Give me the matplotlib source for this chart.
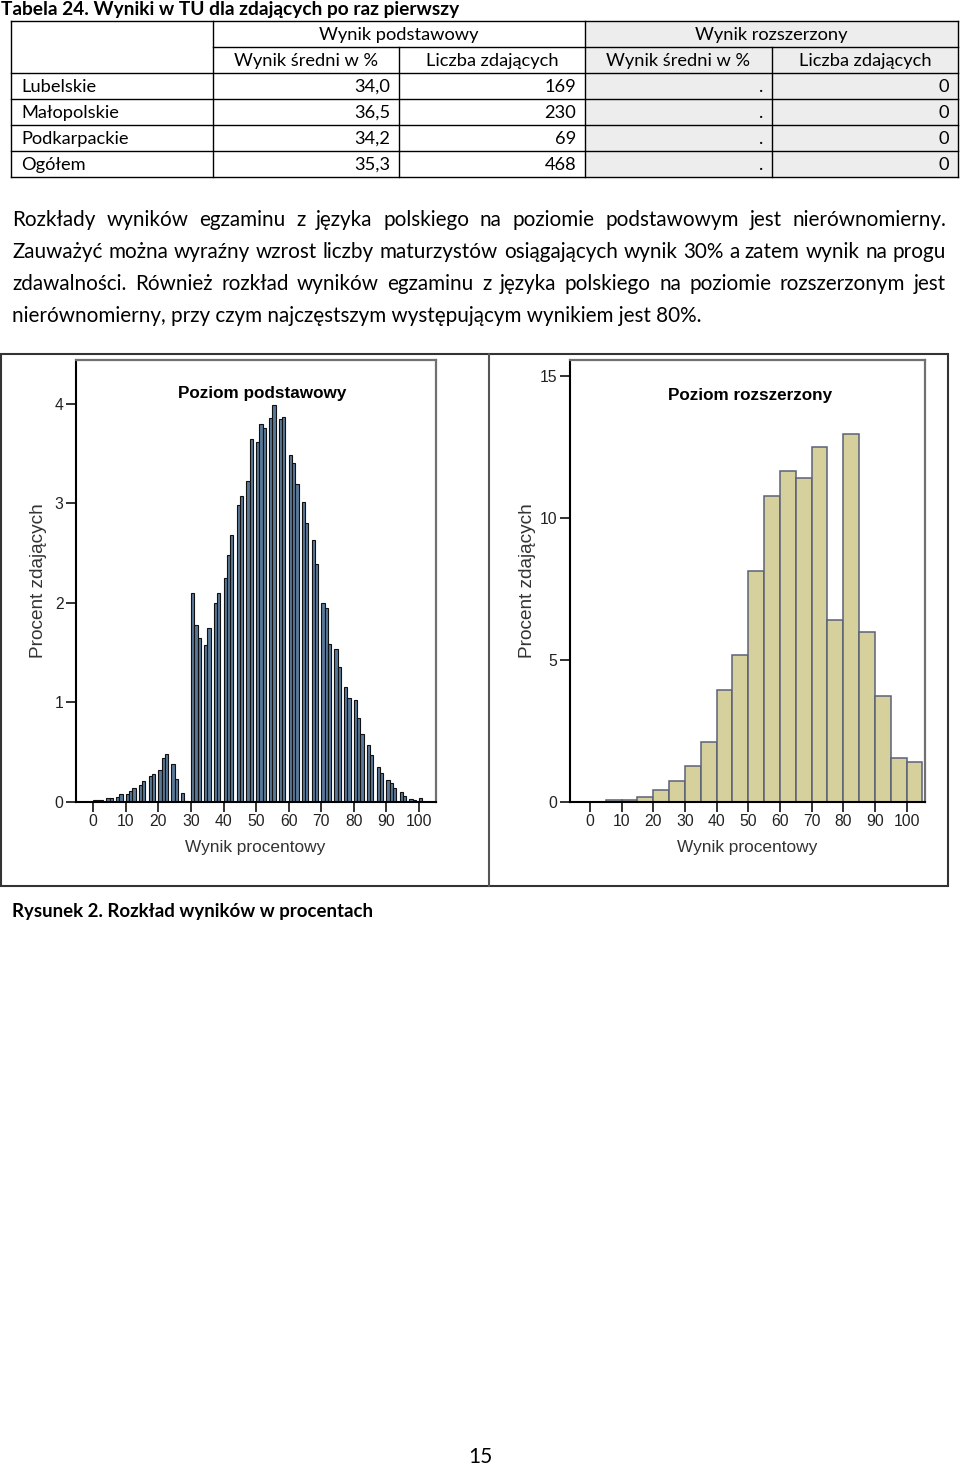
import matplotlib
matplotlib.use('Agg')
import matplotlib.pyplot as plt
from matplotlib.patches import Rectangle

# table data
regions = ['Lubelskie', 'Małopolskie', 'Podkarpackie', 'Ogółem']
basic_mean = [34.0, 36.5, 34.2, 35.3]
basic_count = [169, 230, 69, 468]
ext_mean = [None, None, None, None]
ext_count = [0, 0, 0, 0]

# histogram - poziom podstawowy (1% bins, left edges)
basic_bins = [0, 1, 2, 4, 5, 7, 8, 10, 11, 12, 14, 15, 17, 18, 20, 21, 22, 24, 25, 27, 28,
              30, 31, 32, 34, 35, 37, 38, 40, 41, 42, 44, 45, 47, 48, 50, 51, 52, 54, 55, 57, 58,
              60, 61, 62, 64, 65, 67, 68, 70, 71, 72, 74, 75, 77, 78, 80, 81, 82, 84, 85, 87, 88,
              90, 91, 92, 94, 95, 97, 98, 100]
basic_pct = [0.023, 0.017, 0.02, 0.037, 0.044, 0.05, 0.077, 0.084, 0.11, 0.137, 0.17,
             0.21, 0.26, 0.285, 0.32, 0.44, 0.48, 0.385, 0.23, 0.094, 0.01,
             2.10, 1.78, 1.65, 1.58, 1.75, 2.00, 2.10, 2.25, 2.48, 2.68, 2.98,
             3.07, 3.22, 3.65, 3.62, 3.80, 3.76, 3.86, 3.99, 3.85, 3.87,
             3.49, 3.41, 3.19, 3.01, 2.80, 2.63, 2.39, 2.00, 1.95, 1.59, 1.54,
             1.36, 1.16, 1.04, 1.02, 0.84, 0.68, 0.57, 0.47, 0.35, 0.29,
             0.22, 0.19, 0.14, 0.10, 0.06, 0.03, 0.02, 0.04]

# histogram - poziom rozszerzony (5% bins, left edges)
ext_bins = [0, 5, 10, 15, 20, 25, 30, 35, 40, 45, 50, 55, 60, 65, 70, 75, 80, 85, 90, 95, 100]
ext_pct = [0.01, 0.06, 0.06, 0.18, 0.41, 0.74, 1.27, 2.10, 3.95, 5.18, 8.11,
           10.75, 11.65, 11.40, 12.48, 6.41, 12.94, 5.99, 3.73, 1.54, 1.42]

para = [
    "Rozkłady wyników egzaminu z języka polskiego na poziomie podstawowym jest nierównomierny.",
    "Zauważyć można wyraźny wzrost liczby maturzystów osiągających wynik 30% a zatem wynik na progu",
    "zdawalności. Również rozkład wyników egzaminu z języka polskiego na poziomie rozszerzonym jest",
    "nierównomierny, przy czym najczęstszym występującym wynikiem jest 80%.",
]

W, H = 960, 1467
FONT = 'Lato'
CHART_FONT = 'Liberation Sans'

fig = plt.figure(figsize=(W / 100, H / 100), dpi=100)
page = fig.add_axes([0, 0, 1, 1])
page.set_xlim(0, W)
page.set_ylim(H, 0)
page.axis('off')
renderer = fig.canvas.get_renderer()


def text_w(s, size, weight='normal'):
    t = page.text(0, 0, s, fontsize=size, fontweight=weight, family=FONT)
    w = t.get_window_extent(renderer).width
    t.remove()
    return w


def fit(s, width, weight='normal'):
    return 10 * width / text_w(s, 10, weight)


# title
ts = fit("Tabela 24. Wyniki w TU dla zdających po raz pierwszy", 460, 'bold')
page.text(1, 10, "Tabela 24. Wyniki w TU dla zdających po raz pierwszy", fontsize=ts,
          fontweight='bold', family=FONT, va='center')

# table
col_x = [11, 213, 399, 585, 772, 958]
row_y = [21, 47, 73, 99, 125, 151, 177]
page.add_patch(Rectangle((col_x[3], row_y[0]), col_x[5] - col_x[3], row_y[-1] - row_y[0],
                         fc='#ededed', ec='none'))
lk = dict(color='black', lw=1)
page.plot([col_x[0], col_x[5]], [row_y[0]] * 2, **lk)
page.plot([col_x[1], col_x[5]], [row_y[1]] * 2, **lk)
for y in row_y[2:]:
    page.plot([col_x[0], col_x[5]], [y, y], **lk)
for x in [col_x[0], col_x[1], col_x[3], col_x[5]]:
    page.plot([x, x], [row_y[0], row_y[-1]], **lk)
for x in [col_x[2], col_x[4]]:
    page.plot([x, x], [row_y[1], row_y[-1]], **lk)

fs = fit("Wynik podstawowy", 160)
cy = lambda i: (row_y[i] + row_y[i + 1]) / 2 + 1
page.text((col_x[1] + col_x[3]) / 2, cy(0), "Wynik podstawowy", fontsize=fs, family=FONT,
          ha='center', va='center')
page.text((col_x[3] + col_x[5]) / 2, cy(0), "Wynik rozszerzony", fontsize=fs, family=FONT,
          ha='center', va='center')
subheads = ["Wynik średni w %", "Liczba zdających", "Wynik średni w %", "Liczba zdających"]
for j, s in enumerate(subheads):
    page.text((col_x[j + 1] + col_x[j + 2]) / 2, cy(1), s, fontsize=fs, family=FONT,
              ha='center', va='center')
for i, reg in enumerate(regions):
    r = i + 2
    cells = [f"{basic_mean[i]:.1f}".replace('.', ','), str(basic_count[i]),
             '.' if ext_mean[i] is None else f"{ext_mean[i]:.1f}".replace('.', ','),
             str(ext_count[i])]
    page.text(col_x[0] + 10, cy(r), reg, fontsize=fs, family=FONT, va='center')
    for j, c in enumerate(cells):
        page.text(col_x[j + 2] - 9, cy(r), c, fontsize=fs, family=FONT, ha='right', va='center')

# paragraph, justified
ps = fit(para[-1], 688)
x0, x1 = 12.5, 946
baselines = [226.5, 258, 290, 321.5]
for k, (line, yb) in enumerate(zip(para, baselines)):
    if k == len(para) - 1:
        page.text(x0, yb, line, fontsize=ps, family=FONT, va='baseline')
        continue
    words = line.split(' ')
    ws = [text_w(w, ps) for w in words]
    gap = (x1 - x0 - sum(ws)) / (len(words) - 1)
    x = x0
    for w, wd in zip(words, ws):
        page.text(x, yb, w, fontsize=ps, family=FONT, va='baseline')
        x += wd + gap

# figure frame
page.add_patch(Rectangle((1, 354), 947, 532, fill=False, ec='#333333', lw=1.5))
page.plot([489, 489], [354, 886], color='#555555', lw=1.5)

cs = fit("Rysunek 2. Rozkład wyników w procentach", 361, 'bold')
page.text(12, 912, "Rysunek 2. Rozkład wyników w procentach", fontsize=cs, fontweight='bold',
          family=FONT, va='center')
page.text(480, 1457, "15", fontsize=15, family=FONT, ha='center', va='center')


def style(ax, yticks):
    for s in ['left', 'bottom']:
        ax.spines[s].set_color('black')
        ax.spines[s].set_linewidth(1.5)
    for s in ['top', 'right']:
        ax.spines[s].set_color('#707070')
        ax.spines[s].set_linewidth(1.6)
    ax.set_xticks(range(0, 101, 10))
    ax.set_yticks(yticks)
    ax.tick_params(length=7, width=1.3, pad=2, labelsize=11.3, colors='#222222')
    ax.tick_params(top=False, right=False)
    for lab in ax.get_xticklabels() + ax.get_yticklabels():
        lab.set_family(CHART_FONT)


ax1 = fig.add_axes([76 / W, 1 - 802 / H, 360 / W, 442 / H])
ax1.bar(basic_bins, basic_pct, width=1, align='edge', color='#5a7898',
        edgecolor='#111111', linewidth=0.8)
ax1.set_xlim(-5.3, 105.2)
ax1.set_ylim(0, 4.44)
style(ax1, [0, 1, 2, 3, 4])
ax1.text(0.517, 0.925, "Poziom podstawowy", transform=ax1.transAxes, ha='center', va='center',
         fontsize=12.3, fontweight='bold', family=CHART_FONT)
ax1.text(-0.103, 0.5, "Procent zdających", transform=ax1.transAxes, rotation=90,
         ha='center', va='center', fontsize=13.7, color='#333333', family=CHART_FONT)
ax1.text(0.497, -0.104, "Wynik procentowy", transform=ax1.transAxes, ha='center', va='center',
         fontsize=12.4, color='#333333', family=CHART_FONT)

ax2 = fig.add_axes([570 / W, 1 - 802 / H, 355 / W, 442 / H])
ax2.bar(ext_bins, ext_pct, width=5, align='edge', color='#d6d19c',
        edgecolor='#5b6179', linewidth=1.1)
ax2.set_xlim(-6.3, 105.8)
ax2.set_ylim(0, 15.55)
style(ax2, [0, 5, 10, 15])
ax2.text(0.507, 0.919, "Poziom rozszerzony", transform=ax2.transAxes, ha='center', va='center',
         fontsize=12.3, fontweight='bold', family=CHART_FONT)
ax2.text(-0.121, 0.5, "Procent zdających", transform=ax2.transAxes, rotation=90,
         ha='center', va='center', fontsize=13.7, color='#333333', family=CHART_FONT)
ax2.text(0.4986, -0.104, "Wynik procentowy", transform=ax2.transAxes, ha='center', va='center',
         fontsize=12.4, color='#333333', family=CHART_FONT)

fig.savefig('out.png', dpi=100)
